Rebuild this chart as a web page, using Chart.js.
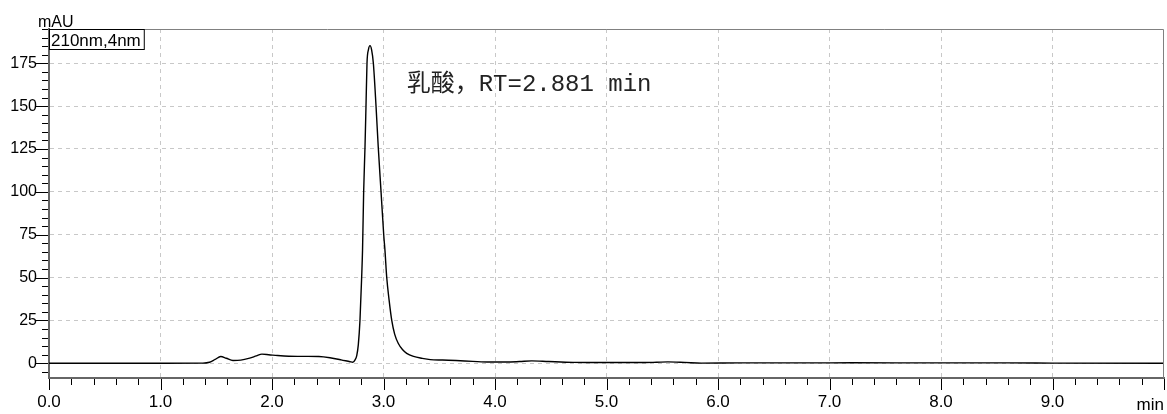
<!DOCTYPE html>
<html>
<head>
<meta charset="utf-8">
<script src="https://cdn.jsdelivr.net/npm/chart.js@4/dist/chart.umd.min.js"></script>
<style>
  html, body { margin: 0; padding: 0; background: #fff; }
  #wrap { width: 1167px; height: 414px; }
</style>
</head>
<body>
<div id="wrap"><canvas id="chrom"></canvas></div>
<script>
// retention time (min) and absorbance (mAU)
const times = [0, 0.5, 1.0, 1.38, 1.44, 1.49, 1.54, 1.59, 1.65, 1.72,
  1.80, 1.86, 1.91, 1.97, 2.05, 2.15, 2.30, 2.42, 2.52, 2.62, 2.70,
  2.725, 2.745, 2.76, 2.774, 2.789, 2.804, 2.812, 2.822, 2.834, 2.843, 2.852, 2.865,
  2.879,
  2.893, 2.909, 2.933, 2.953, 2.978, 3.002, 3.013, 3.029, 3.05, 3.074, 3.10, 3.133, 3.17, 3.208, 3.27, 3.343, 3.42, 3.53, 3.65, 3.80, 3.95,
  4.10, 4.22, 4.33, 4.48, 4.70,
  5.00, 5.30, 5.45, 5.55, 5.70, 5.85,
  6.2, 6.8, 7.2, 8.0, 8.6, 9.0, 10.0];
const mau = [0, 0, 0, 0.1, 0.6, 2.2, 3.9, 2.9, 1.6, 1.8,
  3.0, 4.3, 5.3, 5.0, 4.5, 4.1, 4.0, 3.9, 3.2, 2.0, 0.9,
  0.6, 2.0, 4.5, 10.7, 25, 50, 66, 100, 126, 150, 175, 183,
  185.3,
  183, 175, 150, 126, 100, 75, 66, 50, 37, 25, 17, 11.5, 8, 5.8, 4, 2.9, 2.1, 1.9, 1.6, 1.1, 0.7,
  0.7, 1.0, 1.4, 1.0, 0.5,
  0.4, 0.4, 0.6, 0.8, 0.5, 0.1,
  0.2, 0.2, 0.3, 0.2, 0.2, 0.1, 0];

const peakLabel = '乳酸，RT=2.881 min';
const channelLabel = '210nm,4nm';
const yUnit = 'mAU';
const xUnit = 'min';

const isInt = v => Math.abs(v - Math.round(v)) < 1e-6;
const isMajorY = v => v >= 0 && isInt(v / 25);

// ticks, frame and labels drawn on top of the scales
const decor = {
  id: 'decor',
  afterDraw(chart) {
    const { ctx, chartArea: a, scales: { x, y } } = chart;
    ctx.save();

    // top + right frame
    ctx.strokeStyle = '#808080';
    ctx.lineWidth = 1;
    ctx.beginPath();
    ctx.moveTo(a.left, a.top + 0.5);
    ctx.lineTo(a.right - 0.5, a.top + 0.5);
    ctx.lineTo(a.right - 0.5, a.bottom);
    ctx.stroke();

    // axis ticks (major longer)
    ctx.strokeStyle = '#000';
    ctx.lineWidth = 1;
    ctx.beginPath();
    x.ticks.forEach(t => {
      const px = Math.round(x.getPixelForValue(t.value)) + 0.5;
      const len = isInt(t.value) ? 11 : 6;
      ctx.moveTo(px, a.bottom + 1);
      ctx.lineTo(px, a.bottom + 1 + len);
    });
    y.ticks.forEach(t => {
      const py = Math.round(y.getPixelForValue(t.value)) + 0.5;
      const len = isMajorY(t.value) ? 12 : 6;
      ctx.moveTo(a.left - 1, py);
      ctx.lineTo(a.left - 1 - len, py);
    });
    ctx.stroke();

    // channel box
    ctx.font = '17px "Liberation Sans", Arial, sans-serif';
    ctx.textBaseline = 'alphabetic';
    ctx.textAlign = 'left';
    const w = ctx.measureText(channelLabel).width + 5;
    ctx.fillStyle = '#fff';
    ctx.fillRect(a.left, a.top, w, 20);
    ctx.strokeStyle = '#000';
    ctx.strokeRect(a.left + 0.5, a.top + 0.5, w, 20);
    ctx.fillStyle = '#000';
    ctx.fillText(channelLabel, a.left + 2, a.top + 17);

    // unit labels
    ctx.font = '16px "Liberation Sans", Arial, sans-serif';
    ctx.fillText(yUnit, 38, 27);
    ctx.textAlign = 'right';
    ctx.font = '17px "Liberation Sans", Arial, sans-serif';
    ctx.fillText(xUnit, a.right, 410);

    // peak annotation
    ctx.textAlign = 'left';
    ctx.fillStyle = '#222';
    ctx.font = '24px "Liberation Mono", "Noto Sans CJK SC", monospace';
    ctx.fillText(peakLabel, x.getPixelForValue(3.208), y.getPixelForValue(159));

    ctx.restore();
  }
};

new Chart(document.getElementById('chrom'), {
  type: 'line',
  data: {
    datasets: [{
      data: times.map((t, i) => ({ x: t, y: mau[i] })),
      borderColor: '#000',
      borderWidth: 1.4,
      pointRadius: 0,
      cubicInterpolationMode: 'monotone',
      fill: false,
    }],
  },
  options: {
    responsive: true,
    maintainAspectRatio: false,
    animation: false,
    layout: { padding: { top: 29, right: 3, left: 0, bottom: 0 } },
    plugins: { legend: { display: false }, tooltip: { enabled: false } },
    scales: {
      x: {
        type: 'linear',
        min: 0, max: 10,
        afterFit(s) { s.height = 36; s.paddingLeft = 0; s.paddingRight = 0; },
        ticks: {
          stepSize: 0.2, autoSkip: false, maxRotation: 0, minRotation: 0, padding: 14,
          color: '#000',
          font: { family: '"Liberation Sans", Arial, sans-serif', size: 17 },
          callback: v => (isInt(v) && Math.round(v) < 10) ? v.toFixed(1) : '',
        },
        grid: {
          drawTicks: false,
          color: c => (c.tick && isInt(c.tick.value) && Math.round(c.tick.value) > 0 && Math.round(c.tick.value) < 10) ? '#c8c8c8' : 'rgba(0,0,0,0)',
        },
        border: { color: '#666', width: 2, dash: [4, 4] },
      },
      y: {
        min: -8.6, max: 195,
        afterFit(s) { s.width = 49; s.paddingTop = 0; s.paddingBottom = 0; },
        ticks: {
          stepSize: 5, includeBounds: false, autoSkip: false, padding: 12,
          color: '#000',
          font: { family: '"Liberation Sans", Arial, sans-serif', size: 16 },
          callback: v => isMajorY(v) ? String(v) : '',
        },
        grid: {
          drawTicks: false,
          color: c => (c.tick && isMajorY(c.tick.value)) ? '#c8c8c8' : 'rgba(0,0,0,0)',
        },
        border: { color: '#666', width: 2, dash: [4, 4] },
      },
    },
  },
  plugins: [decor],
});
</script>
</body>
</html>
